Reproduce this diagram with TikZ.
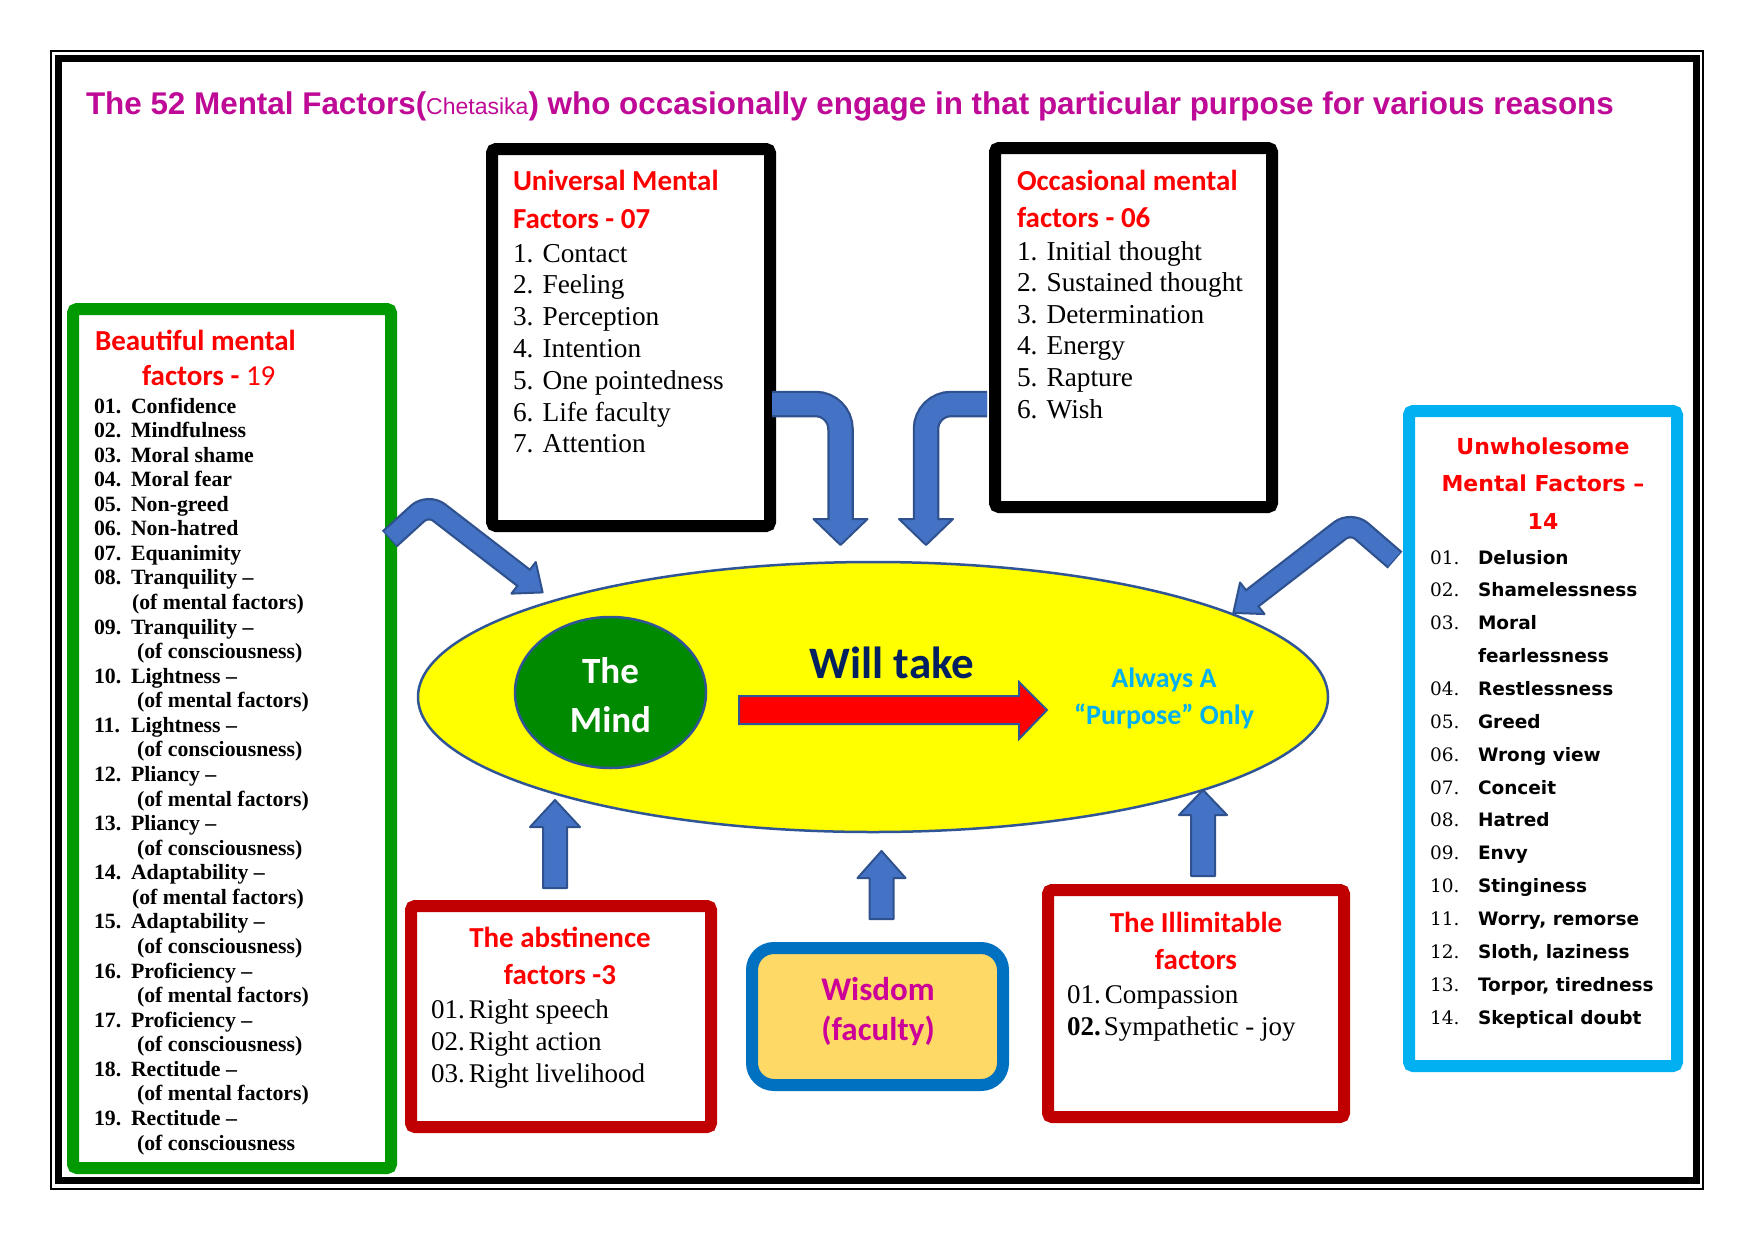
\documentclass[tikz,border=0pt]{standalone}
\usepackage{fontspec}
\setmainfont{Liberation Serif}
\newfontfamily\arialf{Liberation Sans}
\newfontfamily\calf{Carlito}
\newfontfamily\dvs{DejaVu Sans}
\newfontfamily\dvserif{DejaVu Serif}
\usetikzlibrary{shapes.geometric}
\definecolor{ttlmag}{RGB}{190,10,150}
\definecolor{hdred}{RGB}{255,0,0}
\definecolor{boxred}{RGB}{192,0,0}
\definecolor{boxgreen}{RGB}{0,153,0}
\definecolor{boxcyan}{RGB}{0,176,240}
\definecolor{wisblue}{RGB}{0,112,192}
\definecolor{wisfill}{RGB}{255,217,102}
\definecolor{wismag}{RGB}{204,0,153}
\definecolor{ellyel}{RGB}{255,255,0}
\definecolor{ellline}{RGB}{47,85,151}
\definecolor{mindgreen}{RGB}{0,138,0}
\definecolor{navyc}{RGB}{0,32,96}
\definecolor{arrblue}{RGB}{68,114,196}
\definecolor{arrdark}{RGB}{47,82,143}
\newcommand\myfs[1]{\fontsize{#1}{#1}\selectfont}
\begin{document}
\begin{tikzpicture}[x=1pt,y=-1pt,
  txt/.style={inner sep=0pt,outer sep=0pt},
  hd/.style={txt,text=hdred,font=\calf\bfseries\myfs{29}},
  listbox/.style={draw,line width=12pt,rounded corners=4pt,inner sep=0pt},
  arrshape/.style={fill=arrblue,draw=arrdark,line width=2pt,line join=round},
  arrout/.style={draw=arrdark,line cap=butt},
  arrin/.style={draw=arrblue,line cap=butt}]
\useasboundingbox (0,0) rectangle (1754,1240);
\fill[white] (0,0) rectangle (1754,1240);
% frame
\draw[line width=2.5pt] (51,51) rectangle (1703,1189);
\draw[line width=7pt] (58.5,58.5) rectangle (1696,1180.5);
% title
\node[txt,anchor=base west,text=ttlmag,font=\arialf\bfseries\myfs{31.4}] (title) at (86,114)
 {The 52 Mental Factors({\mdseries\myfs{23}Chetasika}) who occasionally engage in that particular purpose for various reasons};
% boxes
\node[listbox,draw=black,minimum width=278pt,minimum height=377pt] (univ) at (631,337.5) {};
\node[listbox,draw=black,minimum width=277pt,minimum height=359pt] (occ) at (1133.5,327.5) {};
\node[listbox,draw=boxgreen,minimum width=318pt,minimum height=859pt] (beau) at (232,738.5) {};
\node[listbox,draw=boxcyan,minimum width=268pt,minimum height=655pt] (unw) at (1543,738.5) {};
\node[listbox,draw=boxred,minimum width=300pt,minimum height=221pt] (abst) at (561,1016.5) {};
\node[listbox,draw=boxred,minimum width=296pt,minimum height=227pt] (illi) at (1196,1003.5) {};
\node[draw=wisblue,fill=wisfill,line width=12pt,rounded corners=22pt,minimum width=251pt,minimum height=137pt,inner sep=0pt] (wis) at (877.5,1016.5) {};
% universal
\node[hd,anchor=base west] (uh1) at (513,190) {Universal Mental};
\node[hd,anchor=base west] (uh2) at (513,228) {Factors - 07};
\foreach \t [count=\i from 0] in {1. Contact,2. Feeling,3. Perception,4. Intention,5. One pointedness,6. Life faculty,7. Attention}
  \node[txt,anchor=base west,font=\myfs{27.3}] (ui\i) at (513,{262+31.8*\i}) {\t};
% occasional
\node[hd,anchor=base west] (oh1) at (1017,190) {Occasional mental};
\node[hd,anchor=base west] (oh2) at (1017,227) {factors - 06};
\foreach \t [count=\i from 0] in {1. Initial thought,2. Sustained thought,3. Determination,4. Energy,5. Rapture,6. Wish}
  \node[txt,anchor=base west,font=\myfs{27.3}] (oi\i) at (1017,{260+31.6*\i}) {\t};
% beautiful
\node[hd,anchor=base west] (bh1) at (95,350) {Beautiful mental};
\node[hd,anchor=base west] (bh2) at (142,385) {factors - {\mdseries 19}};
\foreach \bn/\bt/\bx [count=\i from 0] in {01./Confidence/131,02./Mindfulness/131,03./Moral shame/131,04./Moral fear/131,05./Non-greed/131,06./Non-hatred/131,07./Equanimity/131,
  08./Tranquility –/131,/(of mental factors)/132,09./Tranquility –/131,/(of consciousness)/137,
  10./Lightness –/131,/(of mental factors)/137,11./Lightness –/131,/(of consciousness)/137,
  12./Pliancy –/131,/(of mental factors)/137,13./Pliancy –/131,/(of consciousness)/137,
  14./Adaptability –/131,/(of mental factors)/132,15./Adaptability –/131,/(of consciousness)/137,
  16./Proficiency –/131,/(of mental factors)/137,17./Proficiency –/131,/(of consciousness)/137,
  18./Rectitude –/131,/(of mental factors)/137,19./Rectitude –/131,/(of consciousness/137}
{
  \node[txt,anchor=base west,font=\bfseries\myfs{21.8}] (bn\i) at (94,{413+24.57*\i}) {\bn};
  \node[txt,anchor=base west,font=\bfseries\myfs{21.8}] (bt\i) at (\bx,{413+24.57*\i}) {\bt};
}
% unwholesome
\node[txt,anchor=base,text=hdred,font=\dvs\bfseries\myfs{22}] (wh1) at (1543,454) {Unwholesome};
\node[txt,anchor=base,text=hdred,font=\dvs\bfseries\myfs{22}] (wh2) at (1543,491) {Mental Factors –};
\node[txt,anchor=base,text=hdred,font=\dvs\bfseries\myfs{22}] (wh3) at (1543,529) {14};
\foreach \wn/\wt [count=\i from 0] in {01./Delusion,02./Shamelessness,03./Moral,/fearlessness,04./Restlessness,05./Greed,06./Wrong view,07./Conceit,08./Hatred,09./Envy,10./Stinginess,11./{Worry, remorse},12./{Sloth, laziness},13./{Torpor, tiredness},14./Skeptical doubt}
{
  \node[txt,anchor=base west,font=\dvserif\myfs{18.5}] (wn\i) at (1430,{564+32.86*\i}) {\wn};
  \node[txt,anchor=base west,font=\dvs\bfseries\myfs{18.5}] (wt\i) at (1478,{564+32.86*\i}) {\wt};
}
% abstinence
\node[hd,anchor=base] (ah1) at (560,947) {The abstinence};
\node[hd,anchor=base] (ah2) at (560,984) {factors -3};
\node[txt,anchor=base west,font=\myfs{27}] (ai1) at (431,1018) {01.\hspace{4pt}Right speech};
\node[txt,anchor=base west,font=\myfs{27}] (ai2) at (431,1050) {02.\hspace{4pt}Right action};
\node[txt,anchor=base west,font=\myfs{27}] (ai3) at (431,1082) {03.\hspace{4pt}Right livelihood};
% illimitable
\node[hd,anchor=base] (ih1) at (1196,932) {The Illimitable};
\node[hd,anchor=base] (ih2) at (1196,969) {factors};
\node[txt,anchor=base west,font=\myfs{27}] (ii1) at (1067,1003) {01.\hspace{4pt}Compassion};
\node[txt,anchor=base west,font=\myfs{27}] (ii2) at (1067,1035) {\textbf{02.}\hspace{3pt}Sympathetic - joy};
% wisdom
\node[txt,anchor=base,text=wismag,font=\calf\bfseries\myfs{33}] (wis1) at (878,1000) {Wisdom};
\node[txt,anchor=base,text=wismag,font=\calf\bfseries\myfs{33}] (wis2) at (878,1040) {(faculty)};
% central ellipse
\node[ellipse,draw=ellline,fill=ellyel,line width=2.5pt,minimum width=910pt,minimum height=270pt,inner sep=0pt] (field) at (873,697) {};
\node[ellipse,draw=ellline,fill=mindgreen,line width=2.5pt,minimum width=191pt,minimum height=151pt,inner sep=0pt] (mind) at (610.5,692.5) {};
\node[txt,anchor=base,text=white,font=\calf\bfseries\myfs{37}] (mind1) at (610.5,683) {The};
\node[txt,anchor=base,text=white,font=\calf\bfseries\myfs{37}] (mind2) at (610.5,732) {Mind};
\node[txt,anchor=base,text=navyc,font=\calf\bfseries\myfs{45}] (will) at (892,678) {Will take};
\node[txt,anchor=base,text=boxcyan,font=\calf\bfseries\myfs{28}] (pur1) at (1164,687) {Always A};
\node[txt,anchor=base,text=boxcyan,font=\calf\bfseries\myfs{28}] (pur2) at (1164,724) {“Purpose” Only};
% red arrow
\coordinate (ra) at (739,710);
\coordinate (rb) at (1047,710);
\draw[fill=red,draw=ellline,line width=2pt,line join=miter] (ra) ++(0,-14) -- ++(280,0) -- ++(0,-14) -- (rb) -- ++(-28,29) -- ++(0,-15) -- ++(-280,0) -- cycle;
% bottom arrows (up)
\coordinate (a0) at (555,888); \coordinate (a1) at (555,800);
\draw[arrshape] (a0) ++(-12,0) -- ++(0,-61) -- ++(-13,0) -- (a1) -- ++(25,27) -- ++(-13,0) -- ++(0,61) -- cycle;
\coordinate (s0) at (881.5,919); \coordinate (s1) at (881.5,851);
\draw[arrshape] (s0) ++(-12,0) -- ++(0,-41) -- ++(-12,0) -- (s1) -- ++(24,27) -- ++(-12,0) -- ++(0,41) -- cycle;
\coordinate (l0) at (1203,876); \coordinate (l1) at (1203,790);
\draw[arrshape] (l0) ++(-12,0) -- ++(0,-61) -- ++(-12,0) -- (l1) -- ++(24,25) -- ++(-12,0) -- ++(0,61) -- cycle;
% universal arrow
\coordinate (u1) at (772,404); \coordinate (u2) at (840.5,404); \coordinate (u3) at (840.5,519); \coordinate (u4) at (840.5,545);
\draw[arrout,line width=26.5pt,rounded corners=25pt] (u1) -- (u2) -- (u3);
\draw[arrshape] (u3) ++(-27,0) -- (u4) -- ++(27,-26) -- cycle;
\draw[arrin,line width=22pt,rounded corners=25pt] (u1) -- (u2) -- (840.5,523);
% occasional arrow
\coordinate (o1) at (987,404); \coordinate (o2) at (926,404); \coordinate (o3) at (926,519); \coordinate (o4) at (926,545);
\draw[arrout,line width=26.5pt,rounded corners=25pt] (o1) -- (o2) -- (o3);
\draw[arrshape] (o3) ++(-27,0) -- (o4) -- ++(27,-26) -- cycle;
\draw[arrin,line width=22pt,rounded corners=25pt] (o1) -- (o2) -- (926,523);
% beautiful arrow
\coordinate (b1) at (389.5,539); \coordinate (b2) at (428,504); \coordinate (b3) at (523.6,577.8); \coordinate (b4) at (542.6,592.4);
\draw[arrout,line width=22.5pt,rounded corners=14pt] (b1) -- (b2) -- (b3);
\draw[arrshape] (511.4,593.6) -- (b4) -- (535.8,562) -- cycle;
\draw[arrin,line width=18pt,rounded corners=14pt] (390.4,538.2) -- (b2) -- (526.8,580.2);
% unwholesome arrow
\coordinate (w1) at (1395,560); \coordinate (w2) at (1351,522); \coordinate (w3) at (1252.25,598.25); \coordinate (w4) at (1233.3,612.9);
\draw[arrout,line width=22.5pt,rounded corners=14pt] (w1) -- (w2) -- (w3);
\draw[arrshape] (1264.45,614.05) -- (w4) -- (1240.05,582.45) -- cycle;
\draw[arrin,line width=18pt,rounded corners=14pt] (1394.05,559.2) -- (w2) -- (1249.1,600.7);
\end{tikzpicture}
\end{document}
